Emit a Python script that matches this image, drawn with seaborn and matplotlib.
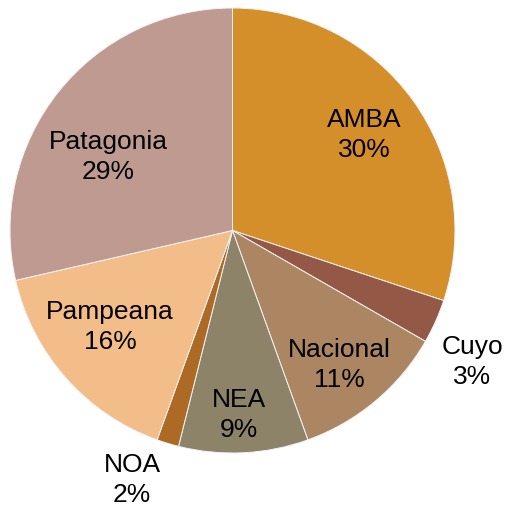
import numpy as np
import matplotlib.pyplot as plt
import seaborn as sns

# 数据
regions = ["AMBA", "Cuyo", "Nacional", "NEA", "NOA", "Pampeana", "Patagonia"]
shares = [30.1, 3.2, 11.2, 9.4, 1.6, 15.9, 28.6]
colors = ["#D48F2A", "#935846", "#AC8562", "#8C8369", "#AD6A25", "#F3BD8A", "#BE9A90"]

# 标签位置（半径比例、相对扇区中线的角度偏移）
label_r = [0.73, 1.23, 0.77, 0.83, 1.21, 0.70, 0.65]
label_dang = [0.0, -4.6, -1.5, -1.0, -5.0, -3.5, 8.0]

sns.set_theme(style="white")
plt.rcParams["font.family"] = ["Liberation Sans", "DejaVu Sans"]

fig = plt.figure(figsize=(5.07, 5.09), dpi=100)
ax = fig.add_axes([10 / 507, 56 / 509, 445 / 507, 445 / 509])

wedges, _ = ax.pie(
    shares, colors=colors, startangle=90, counterclock=False,
    wedgeprops=dict(edgecolor="#F2F2F2", linewidth=0.7),
)

for w, name, v, r, da in zip(wedges, regions, shares, label_r, label_dang):
    ang = np.deg2rad((w.theta1 + w.theta2) / 2 + da)
    ax.text(r * np.cos(ang), r * np.sin(ang), f"{name}\n{v:.0f}%",
            ha="center", va="center", fontsize=19, color="black",
            linespacing=1.32)

ax.set_xlim(-1, 1)
ax.set_ylim(-1, 1)
ax.set_aspect("equal")
ax.axis("off")

plt.savefig("out.png", dpi=100)
